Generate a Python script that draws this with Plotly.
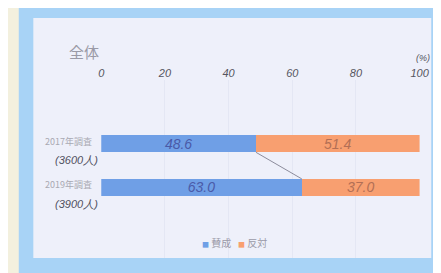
import plotly.graph_objects as go

categories = ["2017年調査", "2019年調査"]
respondents = ["(3600人)", "(3900人)"]
agree = [48.6, 63.0]
oppose = [51.4, 37.0]
series_names = ["賛成", "反対"]
series_colors = ["#6f9fe6", "#f89f70"]
x_ticks = [0, 20, 40, 60, 80, 100]
x_ticktext = ["0", "20", "40", "60", "80", "100"]

W, H = 441, 273
def py(p):  # pixel y -> paper y
    return 1 - p / H

pos = list(range(len(categories)))
fig = go.Figure()
bw = 0.39
hand = dict(family="Liberation Sans", style="italic")

fig.add_trace(go.Bar(
    y=pos, x=agree, orientation="h", name=series_names[0], width=bw, showlegend=False,
    marker=dict(color=series_colors[0], line=dict(width=0)),
    text=[f"{v:.1f}" for v in agree], textposition="inside", insidetextanchor="middle",
    constraintext="none",
    textfont=dict(size=14, color="#4a5aa8", **hand),
))
fig.add_trace(go.Bar(
    y=pos, x=oppose, orientation="h", name=series_names[1], width=bw, showlegend=False,
    marker=dict(color=series_colors[1], line=dict(width=0)),
    text=[f"{v:.1f}" for v in oppose], textposition="inside", insidetextanchor="middle",
    constraintext="none",
    textfont=dict(size=14, color="#b36f55", **hand),
))
# connector line between agree segments
fig.add_trace(go.Scatter(
    x=[agree[0], agree[1]], y=[pos[0] + bw / 2, pos[1] - bw / 2], mode="lines",
    line=dict(color="#8c8c9c", width=1), showlegend=False, hoverinfo="skip",
))

# frame shapes
shapes = [
    dict(type="rect", xref="paper", yref="paper", x0=8 / W, x1=1, y0=py(265), y1=1,
         fillcolor="#a8d3f6", line=dict(width=0), layer="below"),
    dict(type="rect", xref="paper", yref="paper", x0=23 / W, x1=433 / W, y0=py(250), y1=py(10),
         fillcolor="#eef0fa", line=dict(width=0), layer="below"),
]

annotations = [
    dict(text="全体", xref="paper", yref="paper", x=58 / W, y=py(43), xanchor="left", yanchor="middle",
         showarrow=False, font=dict(size=15, color="#9a9aa6", family="Noto Sans CJK JP")),
    dict(text="(%)", xref="paper", yref="paper", x=424 / W, y=py(50), xanchor="center", yanchor="middle",
         showarrow=False, font=dict(size=9, color="#555560", **hand)),
]
# compact legend
legend_html = "&nbsp;&nbsp;&nbsp;".join(
    f'<span style="color:{c};font-size:7px">■</span>&nbsp;{n}' for n, c in zip(series_names, series_colors)
)
annotations.append(dict(text=legend_html, xref="paper", yref="paper", x=230 / W, y=py(234),
                        xanchor="center", yanchor="middle", showarrow=False,
                        font=dict(size=10, color="#9a9aa8", family="Noto Sans CJK JP")))

for i, c, r in zip(pos, categories, respondents):
    annotations.append(dict(text=c, xref="paper", yref="y", x=86 / W, y=i - 0.06, xanchor="right",
                            yanchor="middle", showarrow=False,
                            font=dict(size=9, color="#a9a9b2", family="Noto Sans CJK JP")))
    annotations.append(dict(text=r, xref="paper", yref="y", x=92 / W, y=i + 0.38, xanchor="right",
                            yanchor="middle", showarrow=False,
                            font=dict(size=11, color="#505060", **hand)))

fig.update_layout(
    width=W, height=H, barmode="stack",
    margin=dict(l=0, r=0, t=0, b=0),
    paper_bgcolor="#f3f0de", plot_bgcolor="rgba(0,0,0,0)",
    shapes=shapes, annotations=annotations,
    showlegend=False,
    xaxis=dict(domain=[93 / W, 421 / W], range=[0, 100], side="top",
               tickvals=x_ticks, ticktext=x_ticktext, ticks="",
               tickfont=dict(size=11, color="#555560", **hand),
               showgrid=True, gridcolor="rgba(210,214,232,0.35)", gridwidth=1,
               zeroline=False, showline=False, fixedrange=True),
    yaxis=dict(domain=[py(250), 1 - 72 / H], range=[1 + (250 - 179.4) / 43.6, -(135.8 - 72) / 43.6],
               showticklabels=False, showgrid=False, zeroline=False, showline=False),
)

fig.write_html("out.html")
